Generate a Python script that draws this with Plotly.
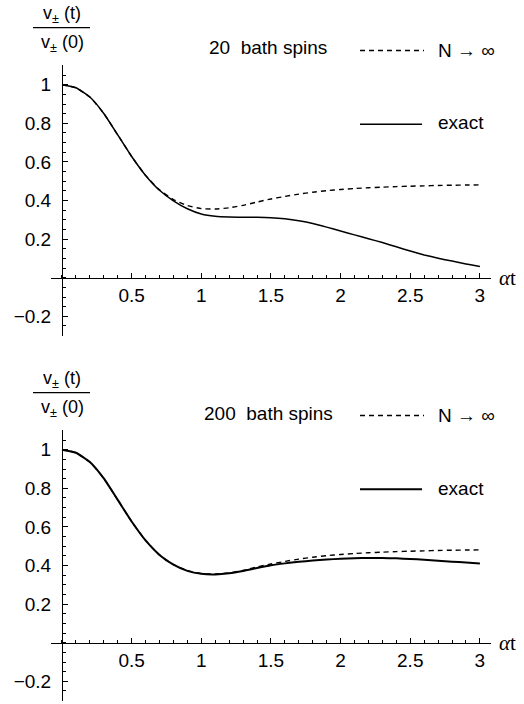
import plotly.graph_objects as go

# ---------------- data ----------------
T = [0.0, 0.1, 0.2, 0.3, 0.4, 0.5, 0.6, 0.7, 0.8, 0.9,
     1.0, 1.1, 1.2, 1.3, 1.4, 1.5, 1.6, 1.7, 1.8, 1.9,
     2.0, 2.1, 2.2, 2.3, 2.4, 2.5, 2.6, 2.7, 2.8, 2.9, 3.0]

N_INF = [1.000, 0.984, 0.936, 0.851, 0.740, 0.628, 0.530, 0.455, 0.405, 0.374,
         0.358, 0.356, 0.362, 0.375, 0.392, 0.408, 0.421, 0.433, 0.443, 0.451,
         0.457, 0.462, 0.466, 0.469, 0.472, 0.474, 0.476, 0.478, 0.479, 0.480, 0.481]

EXACT_20 = [1.000, 0.984, 0.936, 0.851, 0.740, 0.628, 0.530, 0.453, 0.398, 0.357,
            0.330, 0.318, 0.314, 0.313, 0.313, 0.311, 0.305, 0.295, 0.281, 0.262,
            0.242, 0.222, 0.202, 0.182, 0.160, 0.138, 0.118, 0.101, 0.086, 0.071, 0.058]

EXACT_200 = [1.000, 0.984, 0.936, 0.851, 0.740, 0.628, 0.530, 0.455, 0.404, 0.372,
             0.357, 0.354, 0.360, 0.372, 0.387, 0.401, 0.411, 0.419, 0.426, 0.431,
             0.435, 0.438, 0.439, 0.439, 0.437, 0.434, 0.430, 0.425, 0.420, 0.415, 0.410]

X_TICKS = [0.5, 1, 1.5, 2, 2.5, 3]
X_TICK_TEXT = ["0.5", "1", "1.5", "2", "2.5", "3"]
Y_TICKS = [-0.2, 0.2, 0.4, 0.6, 0.8, 1]
Y_TICK_TEXT = ["\u22120.2", "0.2", "0.4", "0.6", "0.8", "1"]

PANEL_TITLES = ["20  bath spins", "200  bath spins"]
LEGEND_DASH = "N \u2192 \u221e"
LEGEND_SOLID = "exact"
X_LABEL = "<i>\u03b1</i>t"
Y_NUM = "v<sub>\u00b1</sub> (t)"
Y_DEN = "v<sub>\u00b1</sub> (0)"

# ---------------- layout helpers (pixels -> paper) ----------------
W, H = 524, 704
def fx(px):
    return px / W
def fy(py):
    return 1 - py / H

X0PX = 62.0      # pixel of t = 0
XS = 139.3       # px per unit t
XR = [-0.08, 3.08]
YS = 193.0       # px per unit v
YR = [-0.3, 1.1]
ZERO_PY = [277.7, 642.7]   # pixel row of v = 0 in each panel

FONT = "Liberation Sans, Arial, Helvetica, sans-serif"
SERIF = "Liberation Serif, Times New Roman, serif"
BLACK = "#000000"

fig = go.Figure()
exacts = [EXACT_20, EXACT_200]
solid_w = [1.5, 2.0]

annotations = []
shapes = []

for i in range(2):
    sfx = "" if i == 0 else "2"
    xa = "x" + sfx
    ya = "y" + sfx
    fig.add_trace(go.Scatter(x=T, y=N_INF, mode="lines", xaxis=xa, yaxis=ya,
                             line=dict(color=BLACK, width=1.4, dash="5px,4px",
                                       shape="spline", smoothing=0.5),
                             showlegend=False, hoverinfo="skip"))
    fig.add_trace(go.Scatter(x=T, y=exacts[i], mode="lines", xaxis=xa, yaxis=ya,
                             line=dict(color=BLACK, width=solid_w[i],
                                       shape="spline", smoothing=0.5),
                             showlegend=False, hoverinfo="skip"))

    z = ZERO_PY[i]
    xdom = [fx(X0PX + XR[0] * XS), fx(X0PX + XR[1] * XS)]
    ydom = [fy(z - YR[0] * YS), fy(z - YR[1] * YS)]

    xaxis = dict(domain=xdom, range=XR, anchor="free", position=fy(z),
                 showline=True, linecolor=BLACK, linewidth=1,
                 showgrid=False, zeroline=False, fixedrange=True,
                 tickmode="array", tickvals=X_TICKS, ticktext=X_TICK_TEXT,
                 ticks="inside", ticklen=5, tickwidth=1, tickcolor=BLACK,
                 ticklabelstandoff=0,
                 minor=dict(dtick=0.1, tick0=0, ticks="inside", ticklen=3,
                            tickwidth=1, tickcolor=BLACK, showgrid=False),
                 tickfont=dict(family=FONT, size=19, color=BLACK))
    yaxis = dict(domain=ydom, range=YR, anchor="free", position=fx(X0PX),
                 showline=True, linecolor=BLACK, linewidth=1,
                 showgrid=False, zeroline=False, fixedrange=True,
                 tickmode="array", tickvals=Y_TICKS, ticktext=Y_TICK_TEXT,
                 ticks="inside", ticklen=5, tickwidth=1, tickcolor=BLACK,
                 ticklabelstandoff=7,
                 minor=dict(dtick=0.05, tick0=0, ticks="inside", ticklen=3,
                            tickwidth=1, tickcolor=BLACK, showgrid=False),
                 tickfont=dict(family=FONT, size=19, color=BLACK))
    fig.update_layout(**{"xaxis" + sfx: xaxis, "yaxis" + sfx: yaxis})

    off = 0 if i == 0 else 365.0
    # y-axis label as fraction
    annotations.append(dict(xref="paper", yref="paper", x=fx(62), y=fy(14 + off),
                            text=Y_NUM, showarrow=False, xanchor="center", yanchor="middle",
                            font=dict(family=FONT, size=18, color=BLACK)))
    annotations.append(dict(xref="paper", yref="paper", x=fx(62), y=fy(43.5 + off),
                            text=Y_DEN, showarrow=False, xanchor="center", yanchor="middle",
                            font=dict(family=FONT, size=18, color=BLACK)))
    shapes.append(dict(type="line", xref="paper", yref="paper",
                       x0=fx(33), x1=fx(90), y0=fy(27.7 + off), y1=fy(27.7 + off),
                       line=dict(color=BLACK, width=1.2)))
    # panel title
    annotations.append(dict(xref="paper", yref="paper", x=fx(268), y=fy(48 + off),
                            text=PANEL_TITLES[i], showarrow=False, xanchor="center",
                            yanchor="middle", font=dict(family=FONT, size=19, color=BLACK)))
    # legend entries
    shapes.append(dict(type="line", xref="paper", yref="paper",
                       x0=fx(360), x1=fx(424), y0=fy(50.5 + off), y1=fy(50.5 + off),
                       line=dict(color=BLACK, width=1.4, dash="5px,4px")))
    annotations.append(dict(xref="paper", yref="paper", x=fx(436), y=fy(50 + off),
                            text=LEGEND_DASH, showarrow=False, xanchor="left",
                            yanchor="middle", font=dict(family=FONT, size=19, color=BLACK)))
    shapes.append(dict(type="line", xref="paper", yref="paper",
                       x0=fx(360), x1=fx(422), y0=fy(124.3 + off), y1=fy(124.3 + off),
                       line=dict(color=BLACK, width=solid_w[i])))
    annotations.append(dict(xref="paper", yref="paper", x=fx(436), y=fy(123 + off),
                            text=LEGEND_SOLID, showarrow=False, xanchor="left",
                            yanchor="middle", font=dict(family=FONT, size=19, color=BLACK)))
    # x-axis label
    annotations.append(dict(xref="paper", yref="paper", x=fx(497), y=fy(z),
                            text=X_LABEL, showarrow=False, xanchor="left",
                            yanchor="middle", font=dict(family=SERIF, size=21, color=BLACK)))

fig.update_layout(width=W, height=H, margin=dict(l=0, r=0, t=0, b=0),
                  paper_bgcolor="white", plot_bgcolor="white",
                  annotations=annotations, shapes=shapes, showlegend=False)

fig.write_html("out.html", config={"displayModeBar": False},
               post_script="document.body.style.margin='0';document.body.style.overflow='hidden';")
